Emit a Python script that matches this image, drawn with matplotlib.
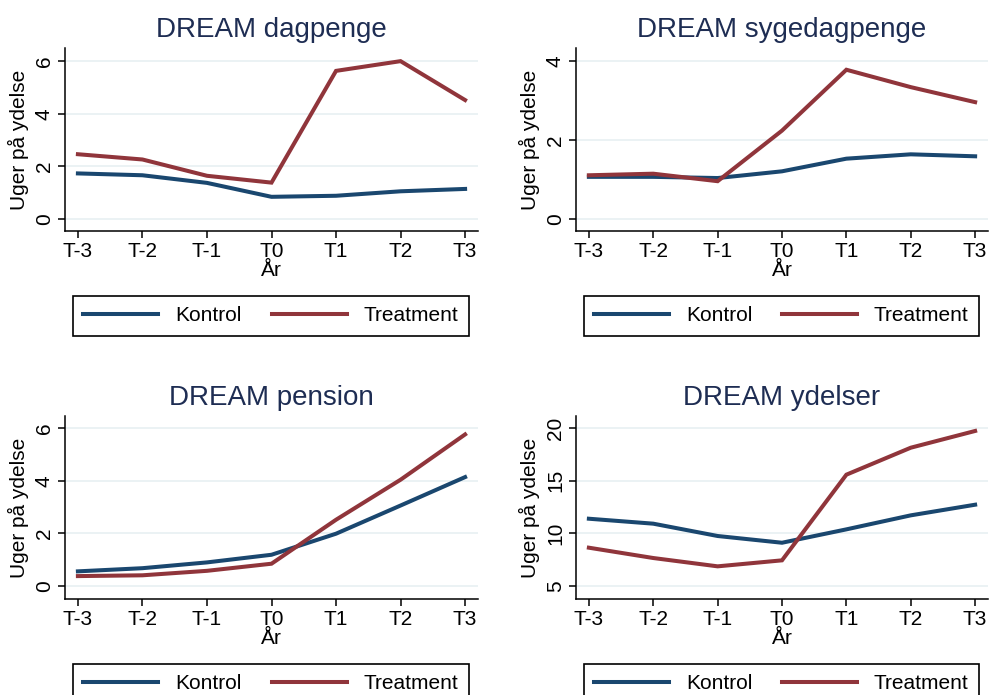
import matplotlib
matplotlib.use("Agg")
import matplotlib.pyplot as plt
import numpy as np

plt.rcParams['font.family'] = ['Liberation Sans', 'DejaVu Sans']

aar = ["T-3", "T-2", "T-1", "T0", "T1", "T2", "T3"]

# DREAM dagpenge
dag_kontrol = [1.73, 1.66, 1.37, 0.84, 0.88, 1.05, 1.14]
dag_treat = [2.46, 2.26, 1.64, 1.38, 5.63, 6.00, 4.52]
# DREAM sygedagpenge
syg_kontrol = [1.07, 1.07, 1.04, 1.21, 1.53, 1.64, 1.59]
syg_treat = [1.11, 1.15, 0.96, 2.24, 3.78, 3.34, 2.96]
# DREAM pension
pen_kontrol = [0.56, 0.68, 0.90, 1.19, 1.99, 3.06, 4.14]
pen_treat = [0.38, 0.41, 0.58, 0.85, 2.52, 4.04, 5.76]
# DREAM ydelser
yd_kontrol = [11.39, 10.92, 9.75, 9.11, 10.38, 11.71, 12.72]
yd_treat = [8.64, 7.66, 6.87, 7.44, 15.57, 18.13, 19.72]

navy = "#1a476f"
maroon = "#90353b"
titlecol = "#1e2d53"
gridcol = "#e8f0f2"

W, H = 990, 695
fig = plt.figure(figsize=(W / 100, H / 100), dpi=100)

# panels: (title, kontrol, treatment, yticks, ylim, left, right, top, bottom) in pixels
panels = [
    ("DREAM dagpenge", dag_kontrol, dag_treat, [0, 2, 4, 6], (-0.46, 6.5), 65, 478, 48, 231),
    ("DREAM sygedagpenge", syg_kontrol, syg_treat, [0, 2, 4], (-0.30, 4.33), 576, 988, 48, 231),
    ("DREAM pension", pen_kontrol, pen_treat, [0, 2, 4, 6], (-0.49, 6.46), 65, 478, 416, 599),
    ("DREAM ydelser", yd_kontrol, yd_treat, [5, 10, 15, 20], (3.77, 21.14), 576, 988, 416, 599),
]

x = np.arange(len(aar))
for title, kon, tre, yt, yl, l, r, t, b in panels:
    ax = fig.add_axes([l / W, 1 - b / H, (r - l) / W, (b - t) / H])
    for v in yt:
        ax.axhline(v, color=gridcol, lw=1.2, zorder=0)
    ax.plot(x, kon, color=navy, lw=2.9, label="Kontrol", solid_joinstyle="miter")
    ax.plot(x, tre, color=maroon, lw=2.9, label="Treatment", solid_joinstyle="miter")
    ax.set_xlim(-0.2, 6.2)
    ax.set_ylim(*yl)
    ax.set_xticks(x)
    ax.set_xticklabels(aar)
    ax.set_yticks(yt)
    ax.spines['top'].set_visible(False)
    ax.spines['right'].set_visible(False)
    ax.spines['left'].set_linewidth(1.1)
    ax.spines['bottom'].set_linewidth(1.1)
    ax.tick_params(labelsize=15, length=5, width=1.1, pad=3)
    ax.tick_params(axis='y', labelrotation=90)
    for lab in ax.get_yticklabels():
        lab.set_va('center')
    ax.set_ylabel("Uger på ydelse", fontsize=15, labelpad=4)
    ax.set_xlabel("År", fontsize=15, labelpad=0)
    ax.set_title(title, fontsize=20, color=titlecol, pad=8)

    # legend box below each panel
    lx0 = l + 8
    lw_ = (r - l) - 17
    ltop = b + 65
    leg = fig.legend(*ax.get_legend_handles_labels(), ncol=2, mode="expand",
                     loc="upper left",
                     bbox_to_anchor=(lx0 / W, 1 - (ltop + 36) / H, lw_ / W, 36 / H),
                     borderaxespad=0, fontsize=15, handlelength=3.6,
                     handletextpad=0.8, columnspacing=2.0, fancybox=False,
                     edgecolor="black", framealpha=1, borderpad=0.5)
    leg.get_frame().set_linewidth(1.2)

fig.savefig("out.png", dpi=100, facecolor="white")
